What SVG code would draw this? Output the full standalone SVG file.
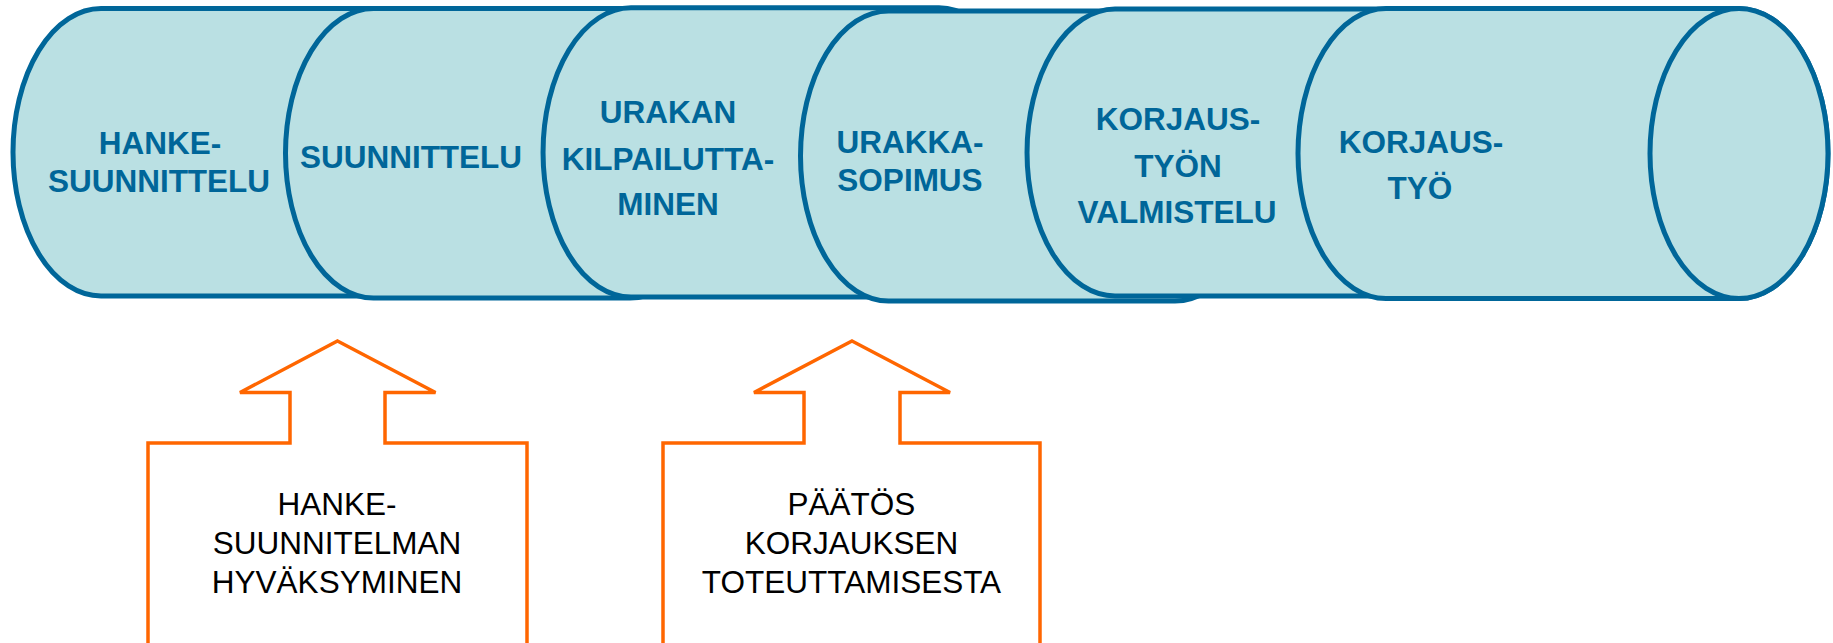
<svg xmlns="http://www.w3.org/2000/svg" width="1833" height="643" viewBox="0 0 1833 643">
<style>
.seg{fill:#BAE0E3;stroke:#006699;stroke-width:5;stroke-linejoin:round}
.lbl{font-family:"Liberation Sans",Arial,sans-serif;font-weight:bold;font-size:31.5px;fill:#006699;text-anchor:middle}
.arr{fill:#FFFFFF;stroke:#FF6600;stroke-width:3.5;stroke-linejoin:miter}
.note{font-family:"Liberation Sans",Arial,sans-serif;font-size:31.5px;fill:#000000;text-anchor:middle}
</style>
<rect width="1833" height="643" fill="#FFFFFF"/>
<g id="seg1">
<path class="seg" d="M101,8.5 L375,8.5 A88,143.75 0 0 1 375,296 L101,296 A88,143.75 0 0 1 101,8.5 Z"/>
<text class="lbl" x="160" y="154">HANKE-</text>
<text class="lbl" x="159" y="192">SUUNNITTELU</text>
</g>
<g id="seg2">
<path class="seg" d="M373.5,8.5 L630,8.5 A88,144.75 0 0 1 630,298 L373.5,298 A88,144.75 0 0 1 373.5,8.5 Z"/>
<text class="lbl" x="411" y="168">SUUNNITTELU</text>
</g>
<g id="seg3">
<path class="seg" d="M631,7.8 L939,7.8 A88,144.6 0 0 1 939,297 L631,297 A88,144.6 0 0 1 631,7.8 Z"/>
<text class="lbl" x="668" y="123">URAKAN</text>
<text class="lbl" x="668" y="170">KILPAILUTTA-</text>
<text class="lbl" x="668" y="215">MINEN</text>
</g>
<g id="seg4">
<path class="seg" d="M888.5,11 L1175,11 A88,145 0 0 1 1175,301 L888.5,301 A88,145 0 0 1 888.5,11 Z"/>
<text class="lbl" x="910" y="153">URAKKA-</text>
<text class="lbl" x="910" y="191">SOPIMUS</text>
</g>
<g id="seg5">
<path class="seg" d="M1115,9 L1406,9 A88,143.5 0 0 1 1406,296 L1115,296 A88,143.5 0 0 1 1115,9 Z"/>
<text class="lbl" x="1178" y="130">KORJAUS-</text>
<text class="lbl" x="1178" y="177">TYÖN</text>
<text class="lbl" x="1177" y="223">VALMISTELU</text>
</g>
<g id="seg6">
<path class="seg" d="M1386,8.5 L1739,8.5 A89,145 0 0 1 1739,298.5 L1386,298.5 A88,145 0 0 1 1386,8.5 Z"/>
<ellipse class="seg" cx="1739" cy="153.5" rx="89" ry="145"/>
<text class="lbl" x="1421" y="153">KORJAUS-</text>
<text class="lbl" x="1420" y="199">TYÖ</text>
</g>
<g id="connectors"></g>
<g id="decision1">
<polygon class="arr" points="337.5,341 435.5,392.5 385,392.5 385,443 527,443 527,650 148,650 148,443 290,443 290,392.5 240,392.5"/>
<text class="note" x="337" y="515">HANKE-</text>
<text class="note" x="337" y="554">SUUNNITELMAN</text>
<text class="note" x="337" y="593">HYVÄKSYMINEN</text>
</g>
<g id="decision2">
<polygon class="arr" points="852,341 950,392.5 900,392.5 900,443 1040,443 1040,650 663,650 663,443 804,443 804,392.5 754,392.5"/>
<text class="note" x="851.5" y="515">PÄÄTÖS</text>
<text class="note" x="851.5" y="554">KORJAUKSEN</text>
<text class="note" x="851.5" y="593">TOTEUTTAMISESTA</text>
</g>
</svg>
